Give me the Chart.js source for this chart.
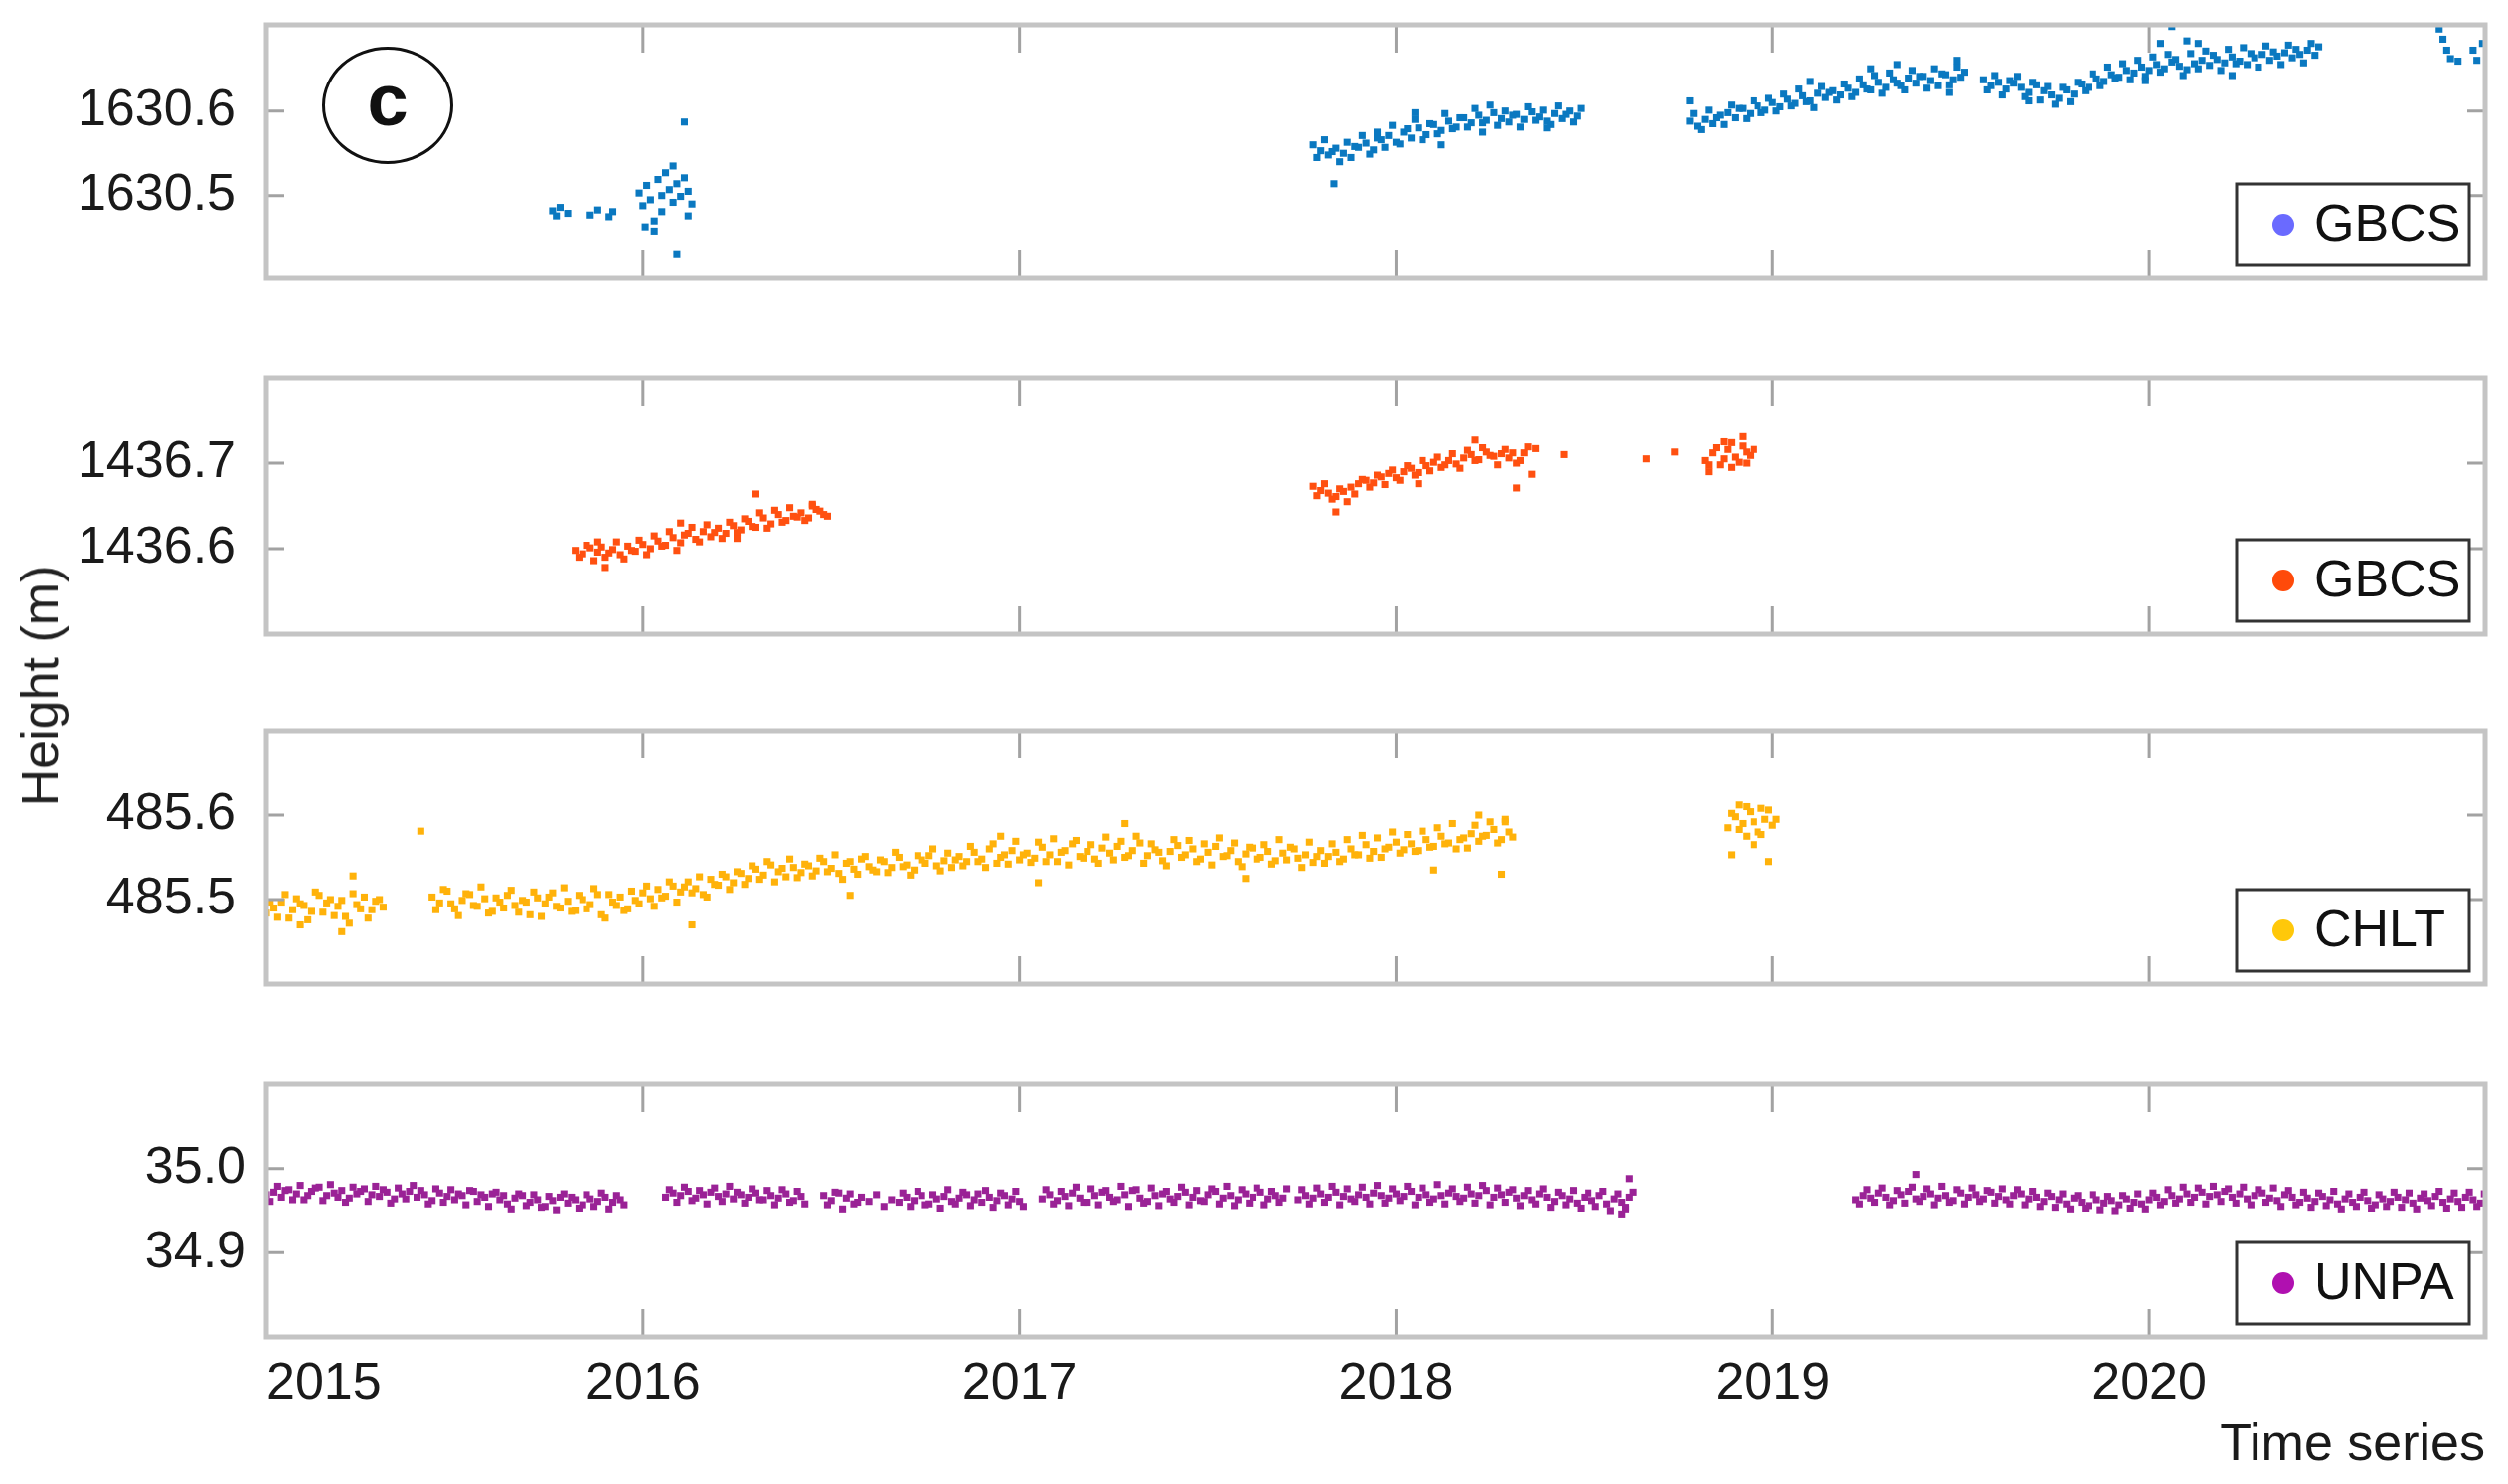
<!DOCTYPE html>
<html>
<head>
<meta charset="utf-8">
<title>Height time series</title>
<script src="https://cdn.jsdelivr.net/npm/chart.js@4.4.1/dist/chart.umd.min.js"></script>
<style>
  html, body { margin: 0; padding: 0; background: #fff; }
  body { position: relative; width: 2523px; height: 1493px; overflow: hidden; font-family: "Liberation Sans", Arial, sans-serif; }
  canvas { position: absolute; left: 0; }
  #yTitle { position: absolute; left: 40px; top: 690px; transform: translate(-50%, -50%) rotate(-90deg); font-size: 52px; color: #222; white-space: nowrap; }
  #panelTag { position: absolute; left: 324px; top: 47px; width: 132px; height: 118px; box-sizing: border-box; border: 3px solid #111; border-radius: 50%; display: flex; align-items: center; justify-content: center; font-weight: bold; font-size: 74px; line-height: 1; color: #111; padding-bottom: 10px; }
</style>
</head>
<body>
<canvas id="chartGbcsUpper" width="2523" height="335" style="top:-15px"></canvas>
<canvas id="chartGbcsLower" width="2523" height="338" style="top:340px"></canvas>
<canvas id="chartChlt" width="2523" height="335" style="top:695px"></canvas>
<canvas id="chartUnpa" width="2523" height="443" style="top:1051px"></canvas>
<div id="yTitle">Height (m)</div>
<div id="panelTag">c</div>

<script>
    'use strict';

    // time axis (decimal years). Inside a run one value every sampleStep,
    // the "Mid" arrays hold the epochs half a step later.
    var sampleStep = 0.02;
    var xMin = 2015.0;
    var xMax = 2020.892;
    var yearTicks = [2015, 2016, 2017, 2018, 2019, 2020];

    // GBCS, upper panel
    var gbcsUpperTicks = [1630.5, 1630.6];
    var gbcsUpperStarts = [2017.78, 2018.78, 2019.56];
    var gbcsUpperRun1 = [1630.560, 1630.553, 1630.548, 1630.556, 1630.550, 1630.545, 1630.557, 1630.562, 1630.554, 1630.566,
        1630.571, 1630.563, 1630.575, 1630.568, 1630.580, 1630.572, 1630.584, 1630.577, 1630.588, 1630.581,
        1630.592, 1630.586, 1630.595, 1630.589, 1630.598, 1630.591, 1630.587, 1630.596, 1630.590, 1630.599,
        1630.593, 1630.588, 1630.597, 1630.591, 1630.600, 1630.594];
    var gbcsUpperMid1 = [1630.545, 1630.566, 1630.552, 1630.540, 1630.563, 1630.558, 1630.571, 1630.549, 1630.568, 1630.557,
        1630.583, 1630.561, 1630.579, 1630.590, 1630.566, 1630.585, 1630.573, 1630.597, 1630.579, 1630.592,
        1630.581, 1630.603, 1630.586, 1630.607, 1630.583, 1630.600, 1630.595, 1630.581, 1630.605, 1630.589,
        1630.601, 1630.584, 1630.606, 1630.596, 1630.587, 1630.603];
    var gbcsUpperRun2 = [1630.588, 1630.582, 1630.590, 1630.585, 1630.595, 1630.598, 1630.592, 1630.603, 1630.597, 1630.606,
        1630.601, 1630.610, 1630.605, 1630.614, 1630.609, 1630.618, 1630.612, 1630.621, 1630.616, 1630.624,
        1630.619, 1630.627, 1630.622, 1630.631, 1630.625, 1630.634, 1630.628, 1630.637, 1630.630, 1630.639,
        1630.633, 1630.641, 1630.636, 1630.630, 1630.643, 1630.637, 1630.640];
    var gbcsUpperMid2 = [1630.597, 1630.578, 1630.601, 1630.592, 1630.584, 1630.607, 1630.603, 1630.591, 1630.612, 1630.598,
        1630.615, 1630.600, 1630.620, 1630.606, 1630.626, 1630.611, 1630.604, 1630.629, 1630.622, 1630.613,
        1630.632, 1630.617, 1630.638, 1630.626, 1630.642, 1630.621, 1630.645, 1630.633, 1630.625, 1630.648,
        1630.641, 1630.627, 1630.650, 1630.644, 1630.631, 1630.652, 1630.646];
    var gbcsUpperRun3 = [1630.637, 1630.630, 1630.634, 1630.626, 1630.633, 1630.628, 1630.622, 1630.631, 1630.624, 1630.619,
        1630.615, 1630.625, 1630.620, 1630.632, 1630.628, 1630.638, 1630.635, 1630.643, 1630.640, 1630.648,
        1630.645, 1630.652, 1630.648, 1630.655, 1630.650, 1630.658, 1630.653, 1630.649, 1630.656, 1630.660,
        1630.654, 1630.661, 1630.657, 1630.664, 1630.659, 1630.655, 1630.663, 1630.667, 1630.660, 1630.665,
        1630.669, 1630.663, 1630.667, 1630.672, 1630.666];
    var gbcsUpperMid3 = [1630.625, 1630.642, 1630.619, 1630.636, 1630.641, 1630.617, 1630.634, 1630.613, 1630.629, 1630.608,
        1630.628, 1630.611, 1630.634, 1630.624, 1630.644, 1630.630, 1630.652, 1630.639, 1630.656, 1630.637,
        1630.660, 1630.641, 1630.664, 1630.646, 1630.667, 1630.661, 1630.642, 1630.668, 1630.650, 1630.671,
        1630.666, 1630.648, 1630.673, 1630.656, 1630.675, 1630.668, 1630.652, 1630.677, 1630.670, 1630.655,
        1630.678, 1630.673, 1630.657, 1630.680, 1630.676];
    var gbcsUpperExtraT = [2015.76, 2015.77, 2015.78, 2015.80, 2015.86, 2015.88, 2015.91, 2015.92,
        2015.99, 2016.00, 2016.01, 2016.02, 2016.03, 2016.03, 2016.04, 2016.05, 2016.05, 2016.06, 2016.07,
        2016.08, 2016.08, 2016.09, 2016.09, 2016.10, 2016.11, 2016.11, 2016.12, 2016.12, 2016.13, 2016.006,
        2017.835, 2017.95, 2018.05, 2018.12, 2018.23, 2018.40,
        2018.78, 2019.10, 2019.26, 2019.33, 2019.47, 2019.49,
        2019.68, 2019.99, 2020.03, 2020.06, 2020.10, 2020.13, 2020.22,
        2020.77, 2020.78, 2020.79, 2020.80, 2020.82, 2020.86, 2020.87, 2020.885];
    var gbcsUpperExtraH = [1630.482, 1630.476, 1630.486, 1630.479, 1630.477, 1630.483, 1630.475, 1630.481,
        1630.503, 1630.488, 1630.512, 1630.495, 1630.470, 1630.458, 1630.519, 1630.500, 1630.481, 1630.527, 1630.507,
        1630.492, 1630.535, 1630.514, 1630.430, 1630.499, 1630.521, 1630.587, 1630.505, 1630.476, 1630.490, 1630.463,
        1630.514, 1630.575, 1630.598, 1630.560, 1630.575, 1630.580,
        1630.612, 1630.635, 1630.650, 1630.655, 1630.622, 1630.660,
        1630.612, 1630.636, 1630.680, 1630.700, 1630.683, 1630.680, 1630.642,
        1630.697, 1630.685, 1630.672, 1630.662, 1630.659, 1630.672, 1630.660, 1630.680];

    // GBCS, second panel
    var gbcsLowerTicks = [1436.6, 1436.7];
    var gbcsLowerStarts = [2015.82, 2017.78, 2018.82];
    var gbcsLowerRun1 = [1436.598, 1436.594, 1436.601, 1436.596, 1436.590, 1436.599, 1436.593, 1436.603, 1436.597, 1436.605,
        1436.600, 1436.609, 1436.604, 1436.613, 1436.607, 1436.618, 1436.611, 1436.620, 1436.614, 1436.624,
        1436.618, 1436.627, 1436.622, 1436.632, 1436.625, 1436.636, 1436.629, 1436.640, 1436.633, 1436.638,
        1436.642, 1436.636, 1436.646, 1436.640];
    var gbcsLowerMid1 = [1436.590, 1436.604, 1436.586, 1436.602, 1436.595, 1436.608, 1436.588, 1436.598, 1436.610, 1436.593,
        1436.615, 1436.603, 1436.620, 1436.598, 1436.616, 1436.625, 1436.608, 1436.628, 1436.619, 1436.612,
        1436.631, 1436.619, 1436.635, 1436.626, 1436.642, 1436.624, 1436.645, 1436.631, 1436.648, 1436.637,
        1436.633, 1436.650, 1436.644, 1436.638];
    var gbcsLowerRun2 = [1436.673, 1436.668, 1436.665, 1436.661, 1436.667, 1436.672, 1436.676, 1436.680, 1436.677, 1436.684,
        1436.688, 1436.683, 1436.690, 1436.694, 1436.689, 1436.697, 1436.701, 1436.695, 1436.703, 1436.699,
        1436.706, 1436.710, 1436.704, 1436.713, 1436.708, 1436.711, 1436.706, 1436.700, 1436.712];
    var gbcsLowerMid2 = [1436.662, 1436.676, 1436.658, 1436.670, 1436.655, 1436.664, 1436.681, 1436.672, 1436.686, 1436.675,
        1436.692, 1436.680, 1436.697, 1436.686, 1436.703, 1436.691, 1436.707, 1436.698, 1436.711, 1436.694,
        1436.715, 1436.703, 1436.718, 1436.709, 1436.698, 1436.716, 1436.712, 1436.703, 1436.719];
    var gbcsLowerRun3 = [1436.703, 1436.712, 1436.698, 1436.716, 1436.707, 1436.720, 1436.709];
    var gbcsLowerMid3 = [1436.698, 1436.718, 1436.705, 1436.724, 1436.701, 1436.713, 1436.716];
    var gbcsLowerExtraT = [2015.88, 2015.90, 2016.10, 2016.25, 2016.30, 2016.45,
        2017.84, 2018.06, 2018.21, 2018.32, 2018.36, 2018.37, 2018.445, 2018.665, 2018.74,
        2018.83, 2018.87, 2018.89, 2018.92, 2018.93];
    var gbcsLowerExtraH = [1436.608, 1436.578, 1436.630, 1436.612, 1436.664, 1436.652,
        1436.643, 1436.676, 1436.727, 1436.671, 1436.687, 1436.717, 1436.710, 1436.705, 1436.713,
        1436.690, 1436.725, 1436.695, 1436.731, 1436.700];

    // CHLT
    var chltTicks = [485.5, 485.6];
    var chltStarts = [2015.00, 2015.44, 2018.88];
    var chltRun1 = [485.484, 485.490, 485.497, 485.478, 485.501, 485.493, 485.486, 485.505, 485.496, 485.481,
        485.499, 485.472, 485.494, 485.503, 485.488, 485.500];
    var chltMid1 = [485.497, 485.479, 485.506, 485.488, 485.495, 485.476, 485.509, 485.485, 485.500, 485.492,
        485.480, 485.507, 485.489, 485.478, 485.498, 485.491];
    var chltRun2 = [485.503, 485.496, 485.510, 485.489, 485.499, 485.506, 485.492, 485.501, 485.486, 485.497,
        485.505, 485.493, 485.499, 485.482, 485.502, 485.495, 485.508, 485.490, 485.498, 485.487,
        485.500, 485.494, 485.506, 485.478, 485.497, 485.503, 485.489, 485.499, 485.508, 485.501,
        485.512, 485.504, 485.516, 485.509, 485.521, 485.513, 485.506, 485.524, 485.517, 485.527,
        485.520, 485.531, 485.525, 485.536, 485.529, 485.541, 485.533, 485.527, 485.538, 485.532,
        485.540, 485.534, 485.545, 485.537, 485.531, 485.543, 485.536, 485.548, 485.539, 485.533,
        485.545, 485.538, 485.550, 485.541, 485.535, 485.547, 485.552, 485.540, 485.546, 485.538,
        485.551, 485.545, 485.556, 485.548, 485.560, 485.543, 485.553, 485.558, 485.547, 485.555,
        485.549, 485.562, 485.553, 485.545, 485.558, 485.566, 485.551, 485.557, 485.548, 485.561,
        485.555, 485.563, 485.550, 485.558, 485.567, 485.552, 485.559, 485.546, 485.557, 485.564,
        485.553, 485.560, 485.548, 485.556, 485.563, 485.551, 485.558, 485.545, 485.554, 485.561,
        485.550, 485.557, 485.546, 485.555, 485.562, 485.549, 485.553, 485.544, 485.558, 485.551,
        485.556, 485.548, 485.560, 485.553, 485.565, 485.557, 485.550, 485.562, 485.568, 485.559,
        485.566, 485.558, 485.571, 485.563, 485.575, 485.567, 485.560, 485.573, 485.578, 485.569,
        485.576, 485.583, 485.571, 485.580];
    var chltMid2 = [485.488, 485.512, 485.495, 485.481, 485.507, 485.493, 485.515, 485.484, 485.502, 485.490,
        485.511, 485.485, 485.497, 485.509, 485.480, 485.503, 485.492, 485.514, 485.486, 485.505,
        485.489, 485.513, 485.482, 485.506, 485.493, 485.487, 485.510, 485.495, 485.516, 485.492,
        485.502, 485.521, 485.497, 485.515, 485.508, 485.527, 485.503, 485.518, 485.530, 485.512,
        485.533, 485.518, 485.540, 485.524, 485.545, 485.521, 485.537, 485.548, 485.526, 485.542,
        485.528, 485.549, 485.533, 485.553, 485.524, 485.545, 485.530, 485.551, 485.535, 485.547,
        485.532, 485.556, 485.539, 485.529, 485.552, 485.543, 485.560, 485.534, 485.555, 485.547,
        485.540, 485.563, 485.545, 485.538, 485.566, 485.550, 485.542, 485.569, 485.553, 485.544,
        485.568, 485.545, 485.572, 485.556, 485.541, 485.570, 485.549, 485.565, 485.543, 485.574,
        485.547, 485.569, 485.552, 485.575, 485.543, 485.566, 485.556, 485.540, 485.571, 485.550,
        485.570, 485.545, 485.566, 485.541, 485.573, 485.552, 485.567, 485.539, 485.562, 485.548,
        485.565, 485.542, 485.571, 485.547, 485.560, 485.538, 485.568, 485.551, 485.543, 485.566,
        485.545, 485.571, 485.553, 485.576, 485.549, 485.573, 485.560, 485.580, 485.555, 485.577,
        485.557, 485.581, 485.562, 485.585, 485.566, 485.590, 485.571, 485.561, 485.588, 485.575,
        485.592, 485.567, 485.595, 485.574];
    var chltRun3 = [485.585, 485.598, 485.590, 485.604, 485.580, 485.595, 485.588];
    var chltMid3 = [485.602, 485.583, 485.610, 485.592, 485.577, 485.606, 485.595];
    var chltExtraT = [2015.09, 2015.20, 2015.23, 2015.41,
        2016.13, 2016.55, 2016.95, 2017.05, 2017.28, 2017.60, 2018.10, 2018.22, 2018.28, 2018.29,
        2018.89, 2018.91, 2018.93, 2018.95, 2018.97, 2018.99];
    var chltExtraH = [485.470, 485.462, 485.528, 485.581,
        485.470, 485.505, 485.575, 485.520, 485.590, 485.525, 485.535, 485.600, 485.530, 485.592,
        485.553, 485.612, 485.575, 485.565, 485.608, 485.545];

    // UNPA
    var unpaTicks = [34.9, 35.0];
    var unpaStarts = [2015.00, 2016.06, 2016.48, 2016.68, 2017.06, 2017.74, 2019.22];
    var unpaRun1 = [34.969, 34.972, 34.966, 34.975, 34.970, 34.963, 34.973, 34.978, 34.968, 34.971,
        34.974, 34.965, 34.970, 34.976, 34.969, 34.967, 34.972, 34.964, 34.970, 34.973,
        34.966, 34.969, 34.962, 34.971, 34.967, 34.963, 34.968, 34.974, 34.961, 34.966,
        34.970, 34.963, 34.958, 34.965, 34.968, 34.960, 34.963, 34.955, 34.962, 34.966,
        34.959, 34.963, 34.957, 34.964, 34.961, 34.966, 34.960, 34.963];
    var unpaMid1 = [34.961, 34.979, 34.974, 34.963, 34.980, 34.968, 34.977, 34.962, 34.981, 34.966,
        34.960, 34.978, 34.973, 34.961, 34.979, 34.975, 34.959, 34.977, 34.964, 34.980,
        34.974, 34.958, 34.976, 34.960, 34.975, 34.970, 34.957, 34.973, 34.969, 34.955,
        34.972, 34.968, 34.952, 34.970, 34.956, 34.969, 34.954, 34.967, 34.951, 34.970,
        34.966, 34.953, 34.969, 34.955, 34.971, 34.952, 34.968, 34.957];
    var unpaRun2 = [34.966, 34.971, 34.968, 34.973, 34.965, 34.969, 34.972, 34.967, 34.970, 34.964,
        34.969, 34.966, 34.971, 34.963, 34.968, 34.965, 34.970, 34.962, 34.967];
    var unpaMid2 = [34.975, 34.960, 34.978, 34.962, 34.974, 34.958, 34.977, 34.961, 34.979, 34.972,
        34.959, 34.976, 34.963, 34.974, 34.957, 34.975, 34.960, 34.973, 34.958];
    var unpaRun3 = [34.968, 34.962, 34.971, 34.965, 34.958, 34.966, 34.961, 34.969, 34.955, 34.963];
    var unpaMid3 = [34.957, 34.972, 34.952, 34.970, 34.960];
    var unpaRun4 = [34.960, 34.966, 34.962, 34.968, 34.958, 34.964, 34.967, 34.961, 34.965, 34.969,
        34.963, 34.960, 34.966, 34.962, 34.968, 34.964, 34.961];
    var unpaMid4 = [34.971, 34.955, 34.973, 34.957, 34.969, 34.953, 34.975, 34.958, 34.972, 34.956,
        34.970, 34.974, 34.954, 34.971, 34.957, 34.973, 34.955];
    var unpaRun5 = [34.964, 34.969, 34.962, 34.967, 34.971, 34.965, 34.960, 34.968, 34.972, 34.966,
        34.963, 34.969, 34.974, 34.965, 34.961, 34.968, 34.970, 34.964, 34.967, 34.972,
        34.966, 34.962, 34.969, 34.973, 34.965, 34.968, 34.963, 34.970, 34.966, 34.972,
        34.964, 34.968, 34.965];
    var unpaMid5 = [34.975, 34.958, 34.973, 34.956, 34.978, 34.960, 34.976, 34.957, 34.974, 34.961,
        34.979, 34.955, 34.975, 34.959, 34.977, 34.956, 34.973, 34.960, 34.978, 34.957,
        34.974, 34.961, 34.976, 34.958, 34.979, 34.956, 34.975, 34.959, 34.977, 34.957,
        34.973, 34.960, 34.976];
    var unpaRun6 = [34.963, 34.968, 34.965, 34.970, 34.966, 34.972, 34.967, 34.964, 34.969, 34.966,
        34.971, 34.968, 34.965, 34.970, 34.967, 34.973, 34.966, 34.969, 34.964, 34.968,
        34.971, 34.967, 34.965, 34.970, 34.968, 34.974, 34.966, 34.969, 34.972, 34.965,
        34.968, 34.963, 34.970, 34.966, 34.961, 34.968, 34.964, 34.959, 34.966, 34.962,
        34.968, 34.958, 34.964, 34.960, 34.966];
    var unpaMid6 = [34.975, 34.958, 34.977, 34.960, 34.979, 34.957, 34.976, 34.961, 34.978, 34.958,
        34.980, 34.959, 34.976, 34.962, 34.979, 34.957, 34.977, 34.960, 34.981, 34.958,
        34.976, 34.961, 34.978, 34.959, 34.980, 34.957, 34.977, 34.960, 34.975, 34.956,
        34.974, 34.958, 34.976, 34.954, 34.972, 34.957, 34.974, 34.953, 34.971, 34.955,
        34.973, 34.950, 34.970, 34.954, 34.972];
    var unpaRun7 = [34.963, 34.968, 34.965, 34.971, 34.966, 34.962, 34.969, 34.973, 34.964, 34.967,
        34.970, 34.965, 34.968, 34.962, 34.971, 34.966, 34.969, 34.964, 34.972, 34.967,
        34.963, 34.968, 34.970, 34.964, 34.966, 34.961, 34.967, 34.963, 34.958, 34.965,
        34.960, 34.956, 34.963, 34.959, 34.962, 34.957, 34.964, 34.960, 34.958, 34.963,
        34.966, 34.961, 34.968, 34.964, 34.970, 34.966, 34.972, 34.967, 34.969, 34.973,
        34.966, 34.970, 34.964, 34.968, 34.971, 34.965, 34.962, 34.969, 34.966, 34.960,
        34.965, 34.961, 34.967, 34.963, 34.958, 34.964, 34.960, 34.966, 34.962, 34.957,
        34.964, 34.961, 34.966, 34.963, 34.959, 34.965, 34.962, 34.967, 34.960, 34.964,
        34.961, 34.966, 34.963, 34.959, 34.965];
    var unpaMid7 = [34.958, 34.975, 34.960, 34.977, 34.957, 34.974, 34.959, 34.978, 34.961, 34.976,
        34.957, 34.979, 34.960, 34.975, 34.958, 34.977, 34.961, 34.974, 34.959, 34.976,
        34.958, 34.975, 34.957, 34.973, 34.955, 34.971, 34.954, 34.970, 34.952, 34.968,
        34.953, 34.969, 34.951, 34.967, 34.950, 34.968, 34.953, 34.970, 34.952, 34.971,
        34.957, 34.975, 34.959, 34.978, 34.960, 34.977, 34.958, 34.979, 34.961, 34.976,
        34.959, 34.978, 34.957, 34.975, 34.960, 34.977, 34.955, 34.974, 34.957, 34.972,
        34.954, 34.971, 34.956, 34.973, 34.952, 34.970, 34.955, 34.972, 34.953, 34.969,
        34.955, 34.972, 34.954, 34.971, 34.952, 34.970, 34.956, 34.973, 34.953, 34.971,
        34.954, 34.972, 34.955, 34.970, 34.953];
    var unpaExtraT = [2018.60, 2018.61, 2018.62, 2019.38];
    var unpaExtraH = [34.946, 34.952, 34.988, 34.993];

    var fontFamily = '"Liberation Sans", Arial, sans-serif';
    Chart.defaults.font.family = fontFamily;

    var _toPoints = (starts, runs, mids, extraT, extraH) => {
        var points = [];
        runs.forEach((run, r) => {
            run.forEach((h, k) => {
                points.push({ x: starts[r] + k * sampleStep, y: h });
            });
            mids[r].forEach((h, k) => {
                points.push({ x: starts[r] + (k + 0.5) * sampleStep, y: h });
            });
        });
        extraT.forEach((t, i) => {
            points.push({ x: t, y: extraH[i] });
        });
        return points;
    };

    // axes box, inward ticks and the boxed legend of every panel
    var panelFrame = {
        id: 'panelFrame',
        afterDatasetsDraw: (chart, args, opts) => {
            var ctx = chart.ctx;
            var a = chart.chartArea;
            var xScale = chart.scales.x;
            var yScale = chart.scales.y;
            ctx.save();

            ctx.strokeStyle = '#a2a2a2';
            ctx.lineWidth = 3;
            ctx.beginPath();
            yearTicks.forEach(v => {
                var px = xScale.getPixelForValue(v);
                ctx.moveTo(px, a.top);
                ctx.lineTo(px, a.top + 28);
                ctx.moveTo(px, a.bottom);
                ctx.lineTo(px, a.bottom - 28);
            });
            yScale.ticks.forEach(t => {
                var py = yScale.getPixelForValue(t.value);
                ctx.moveTo(a.left, py);
                ctx.lineTo(a.left + 18, py);
                ctx.moveTo(a.right, py);
                ctx.lineTo(a.right - 18, py);
            });
            ctx.stroke();

            ctx.strokeStyle = '#c4c4c4';
            ctx.lineWidth = 5;
            ctx.strokeRect(a.left, a.top, a.right - a.left, a.bottom - a.top);

            var w = 234, h = 82;
            var bx = a.right - 16 - w;
            var by = a.bottom - 13 - h;
            ctx.fillStyle = '#fff';
            ctx.fillRect(bx, by, w, h);
            ctx.strokeStyle = '#333';
            ctx.lineWidth = 3;
            ctx.strokeRect(bx, by, w, h);
            ctx.fillStyle = opts.markerColor;
            ctx.beginPath();
            ctx.arc(bx + 47, by + h / 2, 11, 0, Math.PI * 2);
            ctx.fill();
            ctx.fillStyle = '#111';
            ctx.font = '52px ' + fontFamily;
            ctx.textBaseline = 'middle';
            ctx.textAlign = 'left';
            ctx.fillText(chart.data.datasets[0].label, bx + 78, by + h / 2 + 2);
            ctx.restore();
        }
    };

    var _createPanel = (canvasId, cfg) => {
        var xAxis = {
            type: 'linear',
            min: xMin,
            max: xMax,
            display: false
        };
        if (cfg.bottom) {
            xAxis = {
                type: 'linear',
                min: xMin,
                max: xMax,
                afterBuildTicks: s => { s.ticks = yearTicks.concat([xMax]).map(v => ({ value: v })); },
                afterFit: s => { s.height = 141; },
                ticks: {
                    autoSkip: false,
                    maxRotation: 0,
                    align: 'inner',
                    padding: 16,
                    color: '#1a1a1a',
                    font: { size: 52 },
                    callback: v => yearTicks.indexOf(v) >= 0 ? String(v) : ''
                },
                grid: { display: false, drawTicks: false },
                border: { display: false },
                title: {
                    display: true,
                    text: 'Time series',
                    align: 'end',
                    color: '#1a1a1a',
                    font: { size: 52 },
                    padding: { top: 0, bottom: 0 }
                }
            };
        }

        return new Chart(document.getElementById(canvasId), {
            type: 'scatter',
            data: {
                datasets: [{
                    label: cfg.label,
                    data: _toPoints(cfg.starts, cfg.runs, cfg.mids, cfg.extraT, cfg.extraH),
                    backgroundColor: cfg.color,
                    borderWidth: 0,
                    pointStyle: 'rect',
                    pointRadius: 5,
                    pointHoverRadius: 5
                }]
            },
            options: {
                responsive: false,
                animation: false,
                events: [],
                layout: { padding: { left: 0, right: 23, top: 40, bottom: cfg.bottom ? 8 : 40 } },
                plugins: {
                    legend: { display: false },
                    tooltip: { enabled: false },
                    panelFrame: { markerColor: cfg.markerColor }
                },
                scales: {
                    x: xAxis,
                    y: {
                        min: cfg.yMin,
                        max: cfg.yMax,
                        afterBuildTicks: s => { s.ticks = cfg.yTicks.map(v => ({ value: v })); },
                        afterFit: s => {
                            s.width = 268;
                            s.paddingTop = 0;
                            s.paddingBottom = 0;
                        },
                        ticks: {
                            padding: cfg.labelPad,
                            color: '#1a1a1a',
                            font: { size: 52 },
                            callback: v => v.toFixed(1)
                        },
                        grid: { display: false, drawTicks: false },
                        border: { display: false }
                    }
                }
            },
            plugins: [panelFrame]
        });
    };

    _createPanel('chartGbcsUpper', {
        label: 'GBCS', color: '#0a78c0', markerColor: '#6a6aff',
        yMin: 1630.402, yMax: 1630.702, yTicks: gbcsUpperTicks, labelPad: 31,
        starts: gbcsUpperStarts,
        runs: [gbcsUpperRun1, gbcsUpperRun2, gbcsUpperRun3],
        mids: [gbcsUpperMid1, gbcsUpperMid2, gbcsUpperMid3],
        extraT: gbcsUpperExtraT, extraH: gbcsUpperExtraH
    });
    _createPanel('chartGbcsLower', {
        label: 'GBCS', color: '#ff5010', markerColor: '#ff4a0a',
        yMin: 1436.5, yMax: 1436.8, yTicks: gbcsLowerTicks, labelPad: 31,
        starts: gbcsLowerStarts,
        runs: [gbcsLowerRun1, gbcsLowerRun2, gbcsLowerRun3],
        mids: [gbcsLowerMid1, gbcsLowerMid2, gbcsLowerMid3],
        extraT: gbcsLowerExtraT, extraH: gbcsLowerExtraH
    });
    _createPanel('chartChlt', {
        label: 'CHLT', color: '#ffb20a', markerColor: '#ffc80a',
        yMin: 485.4, yMax: 485.7, yTicks: chltTicks, labelPad: 31,
        starts: chltStarts,
        runs: [chltRun1, chltRun2, chltRun3],
        mids: [chltMid1, chltMid2, chltMid3],
        extraT: chltExtraT, extraH: chltExtraH
    });
    _createPanel('chartUnpa', {
        label: 'UNPA', color: '#9a2296', markerColor: '#b010b0',
        yMin: 34.8, yMax: 35.1, yTicks: unpaTicks, labelPad: 21, bottom: true,
        starts: unpaStarts,
        runs: [unpaRun1, unpaRun2, unpaRun3, unpaRun4, unpaRun5, unpaRun6, unpaRun7],
        mids: [unpaMid1, unpaMid2, unpaMid3, unpaMid4, unpaMid5, unpaMid6, unpaMid7],
        extraT: unpaExtraT, extraH: unpaExtraH
    });
</script>
</body>
</html>
